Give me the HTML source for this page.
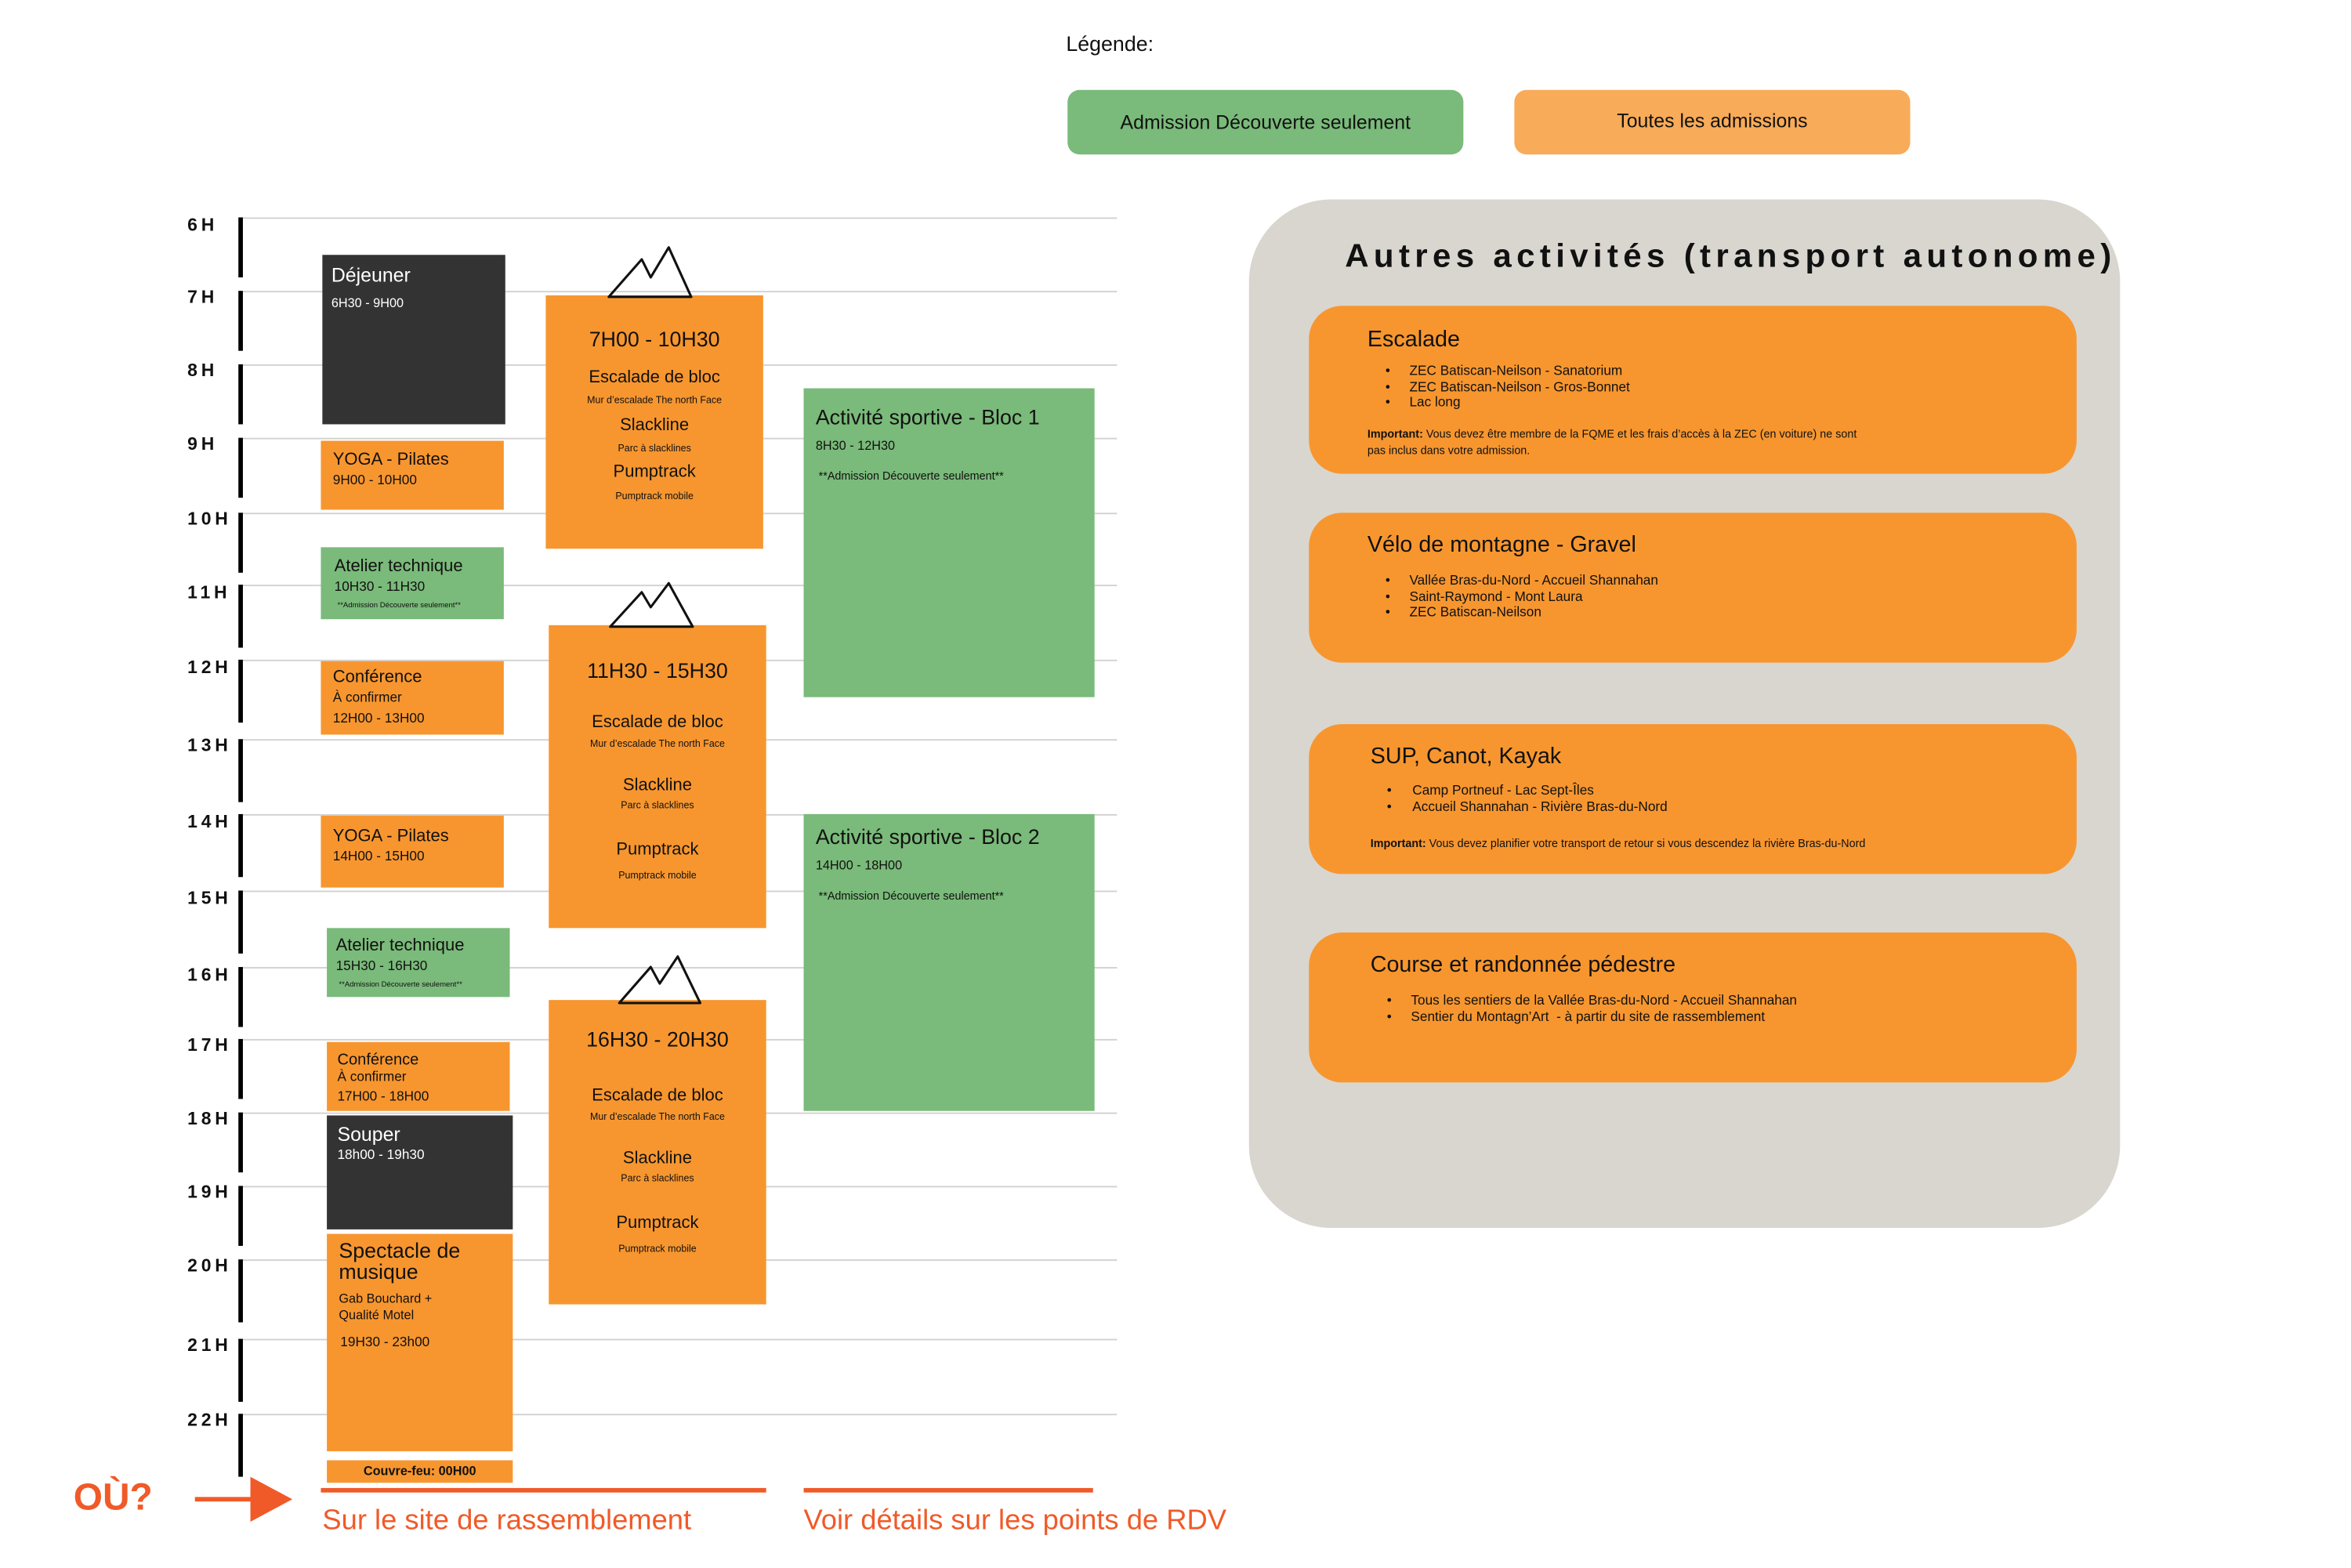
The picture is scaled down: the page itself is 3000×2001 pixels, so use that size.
<!DOCTYPE html>
<html><head><meta charset="utf-8"><style>
html,body{margin:0;padding:0;background:#fff;overflow:hidden}
body{width:3000px;height:2000px}
#c{position:absolute;left:0;top:0;width:1568px;height:1046px;transform:scale(1.91327);transform-origin:0 0;font-family:"Liberation Sans",sans-serif;color:#111}
.a{position:absolute}
.t{position:absolute;white-space:nowrap;line-height:1}
.g{background:#7aba7a}.o{background:#f7962f}.d{background:#333333}
.hl{position:absolute;left:162px;width:583px;height:1px;background:#d2d2d2}
.hb{position:absolute;left:159px;width:2.5px;background:#000}
.hr{position:absolute;left:125px;font-weight:bold;font-size:12px;line-height:1;letter-spacing:2.5px}
.w{color:#fff}
.cen{text-align:center;width:145px}
svg{z-index:5}
</style></head><body><div id="c">

<div class="t" style="left:711px;top:22px;font-size:14px">Légende:</div>
<div class="a g" style="left:712px;top:60px;width:264px;height:43px;border-radius:8px"></div>
<div class="t" style="left:712px;top:75px;width:264px;text-align:center;font-size:13px">Admission Découverte seulement</div>
<div class="a" style="left:1010px;top:60px;width:264px;height:43px;border-radius:8px;background:#f8ab58"></div>
<div class="t" style="left:1010px;top:74px;width:264px;text-align:center;font-size:13px">Toutes les admissions</div>

<div class="hl" style="top:145px"></div><div class="hl" style="top:194px"></div><div class="hl" style="top:243px"></div><div class="hl" style="top:292px"></div><div class="hl" style="top:342px"></div><div class="hl" style="top:390px"></div><div class="hl" style="top:440px"></div><div class="hl" style="top:493px"></div><div class="hl" style="top:543px"></div><div class="hl" style="top:594px"></div><div class="hl" style="top:645px"></div><div class="hl" style="top:693px"></div><div class="hl" style="top:742px"></div><div class="hl" style="top:791px"></div><div class="hl" style="top:840px"></div><div class="hl" style="top:893px"></div><div class="hl" style="top:943px"></div>

<div class="hb" style="top:145px;height:40px"></div><div class="hb" style="top:194px;height:40px"></div><div class="hb" style="top:243px;height:40px"></div><div class="hb" style="top:292px;height:40px"></div><div class="hb" style="top:342px;height:40px"></div><div class="hb" style="top:390px;height:42px"></div><div class="hb" style="top:440px;height:42px"></div><div class="hb" style="top:493px;height:42px"></div><div class="hb" style="top:543px;height:42px"></div><div class="hb" style="top:594px;height:42px"></div><div class="hb" style="top:645px;height:40px"></div><div class="hb" style="top:693px;height:40px"></div><div class="hb" style="top:742px;height:40px"></div><div class="hb" style="top:791px;height:40px"></div><div class="hb" style="top:840px;height:42px"></div><div class="hb" style="top:893px;height:42px"></div><div class="hb" style="top:943px;height:42px"></div>

<div class="hr" style="top:144px">6H</div><div class="hr" style="top:192px">7H</div><div class="hr" style="top:241px">8H</div><div class="hr" style="top:290px">9H</div><div class="hr" style="top:340px">10H</div><div class="hr" style="top:389px">11H</div><div class="hr" style="top:439px">12H</div><div class="hr" style="top:491px">13H</div><div class="hr" style="top:542px">14H</div><div class="hr" style="top:593px">15H</div><div class="hr" style="top:644px">16H</div><div class="hr" style="top:691px">17H</div><div class="hr" style="top:740px">18H</div><div class="hr" style="top:789px">19H</div><div class="hr" style="top:838px">20H</div><div class="hr" style="top:891px">21H</div><div class="hr" style="top:941px">22H</div>

<div class="a d" style="left:215px;top:170px;width:122px;height:113px"></div>
<div class="t w" style="left:221px;top:177px;font-size:13px">Déjeuner</div>
<div class="t w" style="left:221px;top:198px;font-size:8.5px">6H30 - 9H00</div>

<div class="a o" style="left:214px;top:294px;width:122px;height:46px"></div>
<div class="t" style="left:222px;top:302px;font-size:11.5px">YOGA - Pilates</div>
<div class="t" style="left:222px;top:316px;font-size:9px">9H00 - 10H00</div>

<div class="a g" style="left:214px;top:365px;width:122px;height:48px"></div>
<div class="t" style="left:223px;top:373px;font-size:11.5px">Atelier technique</div>
<div class="t" style="left:223px;top:387px;font-size:9px">10H30 - 11H30</div>
<div class="t" style="left:225px;top:402px;font-size:5px">**Admission Découverte seulement**</div>

<div class="a o" style="left:214px;top:441px;width:122px;height:49px"></div>
<div class="t" style="left:222px;top:447px;font-size:11.5px">Conférence</div>
<div class="t" style="left:222px;top:461px;font-size:9px">À confirmer</div>
<div class="t" style="left:222px;top:475px;font-size:9px">12H00 - 13H00</div>

<div class="a o" style="left:214px;top:544px;width:122px;height:48px"></div>
<div class="t" style="left:222px;top:553px;font-size:11.5px">YOGA - Pilates</div>
<div class="t" style="left:222px;top:567px;font-size:9px">14H00 - 15H00</div>

<div class="a g" style="left:218px;top:619px;width:122px;height:46px"></div>
<div class="t" style="left:224px;top:626px;font-size:11.5px">Atelier technique</div>
<div class="t" style="left:224px;top:640px;font-size:9px">15H30 - 16H30</div>
<div class="t" style="left:226px;top:655px;font-size:5px">**Admission Découverte seulement**</div>

<div class="a o" style="left:218px;top:695px;width:122px;height:46px"></div>
<div class="t" style="left:225px;top:702px;font-size:10.5px">Conférence</div>
<div class="t" style="left:225px;top:714px;font-size:9px">À confirmer</div>
<div class="t" style="left:225px;top:727px;font-size:9px">17H00 - 18H00</div>

<div class="a d" style="left:218px;top:744px;width:124px;height:76px"></div>
<div class="t w" style="left:225px;top:750px;font-size:13px">Souper</div>
<div class="t w" style="left:225px;top:766px;font-size:9px">18h00 - 19h30</div>

<div class="a o" style="left:218px;top:823px;width:124px;height:145px"></div>
<div class="t" style="left:226px;top:827px;font-size:14px;line-height:14px">Spectacle de<br>musique</div>
<div class="t" style="left:226px;top:861px;font-size:8.5px;line-height:11px">Gab Bouchard +<br>Qualité Motel</div>
<div class="t" style="left:227px;top:891px;font-size:9px">19H30 - 23h00</div>

<div class="a o" style="left:218px;top:974px;width:124px;height:15px"></div>
<div class="t" style="left:218px;top:977px;width:124px;text-align:center;font-size:8.5px;font-weight:bold">Couvre-feu: 00H00</div>

<div class="a o" style="left:364px;top:197px;width:145px;height:169px"></div>
<div class="t cen" style="left:364px;top:219px;font-size:14px">7H00 - 10H30</div>
<div class="t cen" style="left:364px;top:247px;font-size:11.5px">Escalade de bloc</div>
<div class="t cen" style="left:364px;top:265px;font-size:6.5px">Mur d’escalade The north Face</div>
<div class="t cen" style="left:364px;top:279px;font-size:11.5px">Slackline</div>
<div class="t cen" style="left:364px;top:297px;font-size:6.5px">Parc à slacklines</div>
<div class="t cen" style="left:364px;top:310px;font-size:11.5px">Pumptrack</div>
<div class="t cen" style="left:364px;top:329px;font-size:6.5px">Pumptrack mobile</div>

<div class="a o" style="left:366px;top:417px;width:145px;height:202px"></div>
<div class="t cen" style="left:366px;top:440px;font-size:14px">11H30 - 15H30</div>
<div class="t cen" style="left:366px;top:477px;font-size:11.5px">Escalade de bloc</div>
<div class="t cen" style="left:366px;top:494px;font-size:6.5px">Mur d’escalade The north Face</div>
<div class="t cen" style="left:366px;top:519px;font-size:11.5px">Slackline</div>
<div class="t cen" style="left:366px;top:535px;font-size:6.5px">Parc à slacklines</div>
<div class="t cen" style="left:366px;top:562px;font-size:11.5px">Pumptrack</div>
<div class="t cen" style="left:366px;top:582px;font-size:6.5px">Pumptrack mobile</div>

<div class="a o" style="left:366px;top:667px;width:145px;height:203px"></div>
<div class="t cen" style="left:366px;top:686px;font-size:14px">16H30 - 20H30</div>
<div class="t cen" style="left:366px;top:726px;font-size:11.5px">Escalade de bloc</div>
<div class="t cen" style="left:366px;top:743px;font-size:6.5px">Mur d’escalade The north Face</div>
<div class="t cen" style="left:366px;top:768px;font-size:11.5px">Slackline</div>
<div class="t cen" style="left:366px;top:784px;font-size:6.5px">Parc à slacklines</div>
<div class="t cen" style="left:366px;top:811px;font-size:11.5px">Pumptrack</div>
<div class="t cen" style="left:366px;top:831px;font-size:6.5px">Pumptrack mobile</div>

<div class="a g" style="left:536px;top:259px;width:194px;height:206px"></div>
<div class="t" style="left:544px;top:271px;font-size:14px">Activité sportive - Bloc 1</div>
<div class="t" style="left:544px;top:293px;font-size:8.5px">8H30 - 12H30</div>
<div class="t" style="left:546px;top:314px;font-size:7.5px">**Admission Découverte seulement**</div>

<div class="a g" style="left:536px;top:543px;width:194px;height:198px"></div>
<div class="t" style="left:544px;top:551px;font-size:14px">Activité sportive - Bloc 2</div>
<div class="t" style="left:544px;top:573px;font-size:8.5px">14H00 - 18H00</div>
<div class="t" style="left:546px;top:594px;font-size:7.5px">**Admission Découverte seulement**</div>

<svg class="a" style="left:0;top:0" width="1568" height="1046">
<g fill="none" stroke="#111" stroke-width="1.6" stroke-linejoin="round">
<path d="M406 198 L428 173 L434 185 L446 165 L461 198 Z"/>
<path d="M407 418 L428 395 L434 405 L446 389 L462 418 Z"/>
<path d="M413 669 L434 645 L440 656 L452 638 L467 669 Z"/>
</g>
<line x1="130" y1="1000" x2="170" y2="1000" stroke="#f05a28" stroke-width="3"/>
<polygon points="167,985 195,1000 167,1015" fill="#f05a28"/>
<rect x="214" y="992.5" width="297" height="3" fill="#f05a28"/>
<rect x="536" y="992.5" width="193" height="3" fill="#f05a28"/>
</svg>

<div class="t" style="left:49px;top:987px;font-size:25px;font-weight:bold;color:#f05a28">OÙ?</div>
<div class="t" style="left:215px;top:1005px;font-size:19px;color:#f05a28">Sur le site de rassemblement</div>
<div class="t" style="left:536px;top:1005px;font-size:19px;color:#f05a28">Voir détails sur les points de RDV</div>

<div class="a" style="left:833px;top:133px;width:581px;height:686px;border-radius:55px;background:#d9d6cf"></div>
<div class="t" style="left:897px;top:160px;font-size:22px;font-weight:bold;letter-spacing:3.3px">Autres activités (transport autonome)</div>

<div class="a o" style="left:873px;top:204px;width:512px;height:112px;border-radius:22px"></div>
<div class="t" style="left:912px;top:219px;font-size:15px">Escalade</div>
<div class="t" style="left:924px;top:242px;font-size:9px;line-height:10.5px">•<br>•<br>•</div>
<div class="t" style="left:940px;top:242px;font-size:9px;line-height:10.5px">ZEC Batiscan-Neilson - Sanatorium<br>ZEC Batiscan-Neilson - Gros-Bonnet<br>Lac long</div>
<div class="t" style="left:912px;top:285px;font-size:7.5px;line-height:10.5px"><b>Important:</b> Vous devez être membre de la FQME et les frais d’accès à la ZEC (en voiture) ne sont<br>pas inclus dans votre admission.</div>

<div class="a o" style="left:873px;top:342px;width:512px;height:100px;border-radius:22px"></div>
<div class="t" style="left:912px;top:356px;font-size:15px">Vélo de montagne - Gravel</div>
<div class="t" style="left:924px;top:382px;font-size:9px;line-height:10.5px">•<br>•<br>•</div>
<div class="t" style="left:940px;top:382px;font-size:9px;line-height:10.5px">Vallée Bras-du-Nord - Accueil Shannahan<br>Saint-Raymond - Mont Laura<br>ZEC Batiscan-Neilson</div>

<div class="a o" style="left:873px;top:483px;width:512px;height:100px;border-radius:22px"></div>
<div class="t" style="left:914px;top:497px;font-size:15px">SUP, Canot, Kayak</div>
<div class="t" style="left:925px;top:522px;font-size:9px;line-height:10.5px">•<br>•</div>
<div class="t" style="left:942px;top:522px;font-size:9px;line-height:10.5px">Camp Portneuf - Lac Sept-Îles<br>Accueil Shannahan - Rivière Bras-du-Nord</div>
<div class="t" style="left:914px;top:559px;font-size:7.5px"><b>Important:</b> Vous devez planifier votre transport de retour si vous descendez la rivière Bras-du-Nord</div>

<div class="a o" style="left:873px;top:622px;width:512px;height:100px;border-radius:22px"></div>
<div class="t" style="left:914px;top:636px;font-size:15px">Course et randonnée pédestre</div>
<div class="t" style="left:925px;top:662px;font-size:9px;line-height:10.5px">•<br>•</div>
<div class="t" style="left:941px;top:662px;font-size:9px;line-height:10.5px">Tous les sentiers de la Vallée Bras-du-Nord - Accueil Shannahan<br>Sentier du Montagn’Art &nbsp;- à partir du site de rassemblement</div>

</div></body></html>
